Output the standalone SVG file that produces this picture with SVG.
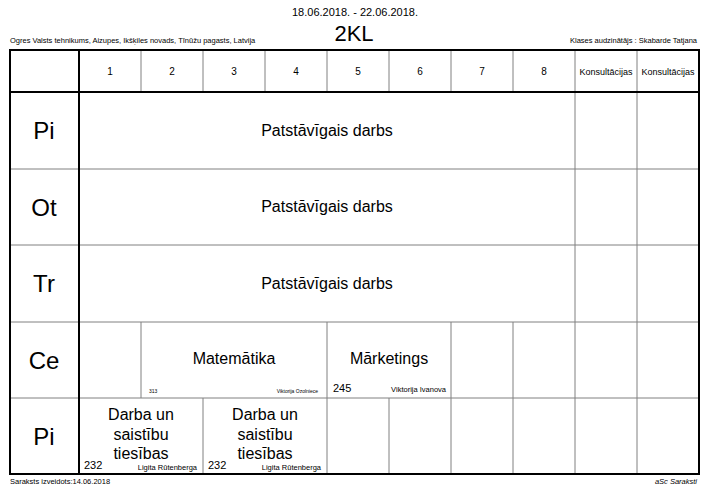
<svg xmlns="http://www.w3.org/2000/svg" width="711" height="501" viewBox="0 0 711 501">
<style>
text{font-family:"Liberation Sans",Arial,sans-serif;fill:#000}
.thin{stroke:#808080;stroke-width:1;fill:none}
.thick{stroke:#000;stroke-width:2;fill:none}
.hd{font-size:10px;text-anchor:middle}
.kon{font-size:9px;text-anchor:middle}
.day{font-size:24px;text-anchor:middle}
.subj{font-size:16px;text-anchor:middle}
.tiny{font-size:5px}
.sm{font-size:7.5px}
.room{font-size:11px}
</style>
<rect width="711" height="501" fill="#fff"/>
<g id="header">
<text x="355" y="16" font-size="11" text-anchor="middle">18.06.2018. - 22.06.2018.</text>
<text x="354" y="41" font-size="22" text-anchor="middle">2KL</text>
<text x="10" y="43" class="sm">Ogres Valsts tehnikums, Aizupes, Ikšķiles novads, Tīnūžu pagasts, Latvija</text>
<text x="697" y="43" class="sm" text-anchor="end">Klases audzinātājs : Skabarde Tatjana</text>
</g>
<g id="connectors">
<path class="thin" d="M141 50V92M203 50V92M265 50V92M327 50V92M389 50V92M451 50V92M513 50V92M575 50V92M637 50V92"/>
<path class="thin" d="M575 92V474M637 92V474"/>
<path class="thin" d="M141 322V398M327 322V398M451 322V398M513 322V398"/>
<path class="thin" d="M203 398V474M327 398V474M389 398V474M451 398V474M513 398V474"/>
<path class="thin" d="M10 169H699M10 245H699M10 322H699M10 398H699"/>
<path class="thick" d="M10 92H699"/>
<path class="thick" d="M79 50V474"/>
<rect class="thick" x="10" y="50" width="689" height="424"/>
</g>
<g id="col-headers">
<text x="110" y="75" class="hd">1</text>
<text x="172" y="75" class="hd">2</text>
<text x="234" y="75" class="hd">3</text>
<text x="296" y="75" class="hd">4</text>
<text x="358" y="75" class="hd">5</text>
<text x="420" y="75" class="hd">6</text>
<text x="482" y="75" class="hd">7</text>
<text x="544" y="75" class="hd">8</text>
<text x="606" y="75" class="kon">Konsultācijas</text>
<text x="668" y="75" class="kon">Konsultācijas</text>
</g>
<g id="days">
<text x="44" y="139" class="day">Pi</text>
<text x="44" y="216" class="day">Ot</text>
<text x="44" y="292" class="day">Tr</text>
<text x="44" y="369" class="day">Ce</text>
<text x="44" y="445" class="day">Pi</text>
</g>
<g id="mon">
<text x="327" y="136" class="subj">Patstāvīgais darbs</text>
</g>
<g id="tue">
<text x="327" y="212" class="subj">Patstāvīgais darbs</text>
</g>
<g id="wed">
<text x="327" y="289" class="subj">Patstāvīgais darbs</text>
</g>
<g id="thu-mat">
<text x="234" y="364" class="subj">Matemātika</text>
<text x="149" y="393" class="tiny">313</text>
<text x="318" y="393" class="tiny" text-anchor="end">Viktorija Ozolniece</text>
</g>
<g id="thu-mar">
<text x="389" y="364" class="subj">Mārketings</text>
<text x="333" y="392" class="room">245</text>
<text x="446" y="392" class="sm" text-anchor="end">Viktorija Ivanova</text>
</g>
<g id="fri-1">
<text x="141" y="420" class="subj">Darba un</text>
<text x="141" y="440" class="subj">saistību</text>
<text x="141" y="459" class="subj">tiesības</text>
<text x="84" y="469" class="room">232</text>
<text x="197" y="470" class="sm" text-anchor="end">Ligita Rūtenberga</text>
</g>
<g id="fri-2">
<text x="265" y="420" class="subj">Darba un</text>
<text x="265" y="440" class="subj">saistību</text>
<text x="265" y="459" class="subj">tiesības</text>
<text x="208" y="469" class="room">232</text>
<text x="321" y="470" class="sm" text-anchor="end">Ligita Rūtenberga</text>
</g>
<g id="footer">
<text x="10" y="484" class="sm">Saraksts izveidots:14.06.2018</text>
<text x="697" y="484" class="sm" text-anchor="end" font-style="italic">aSc Saraksti</text>
</g>
</svg>
